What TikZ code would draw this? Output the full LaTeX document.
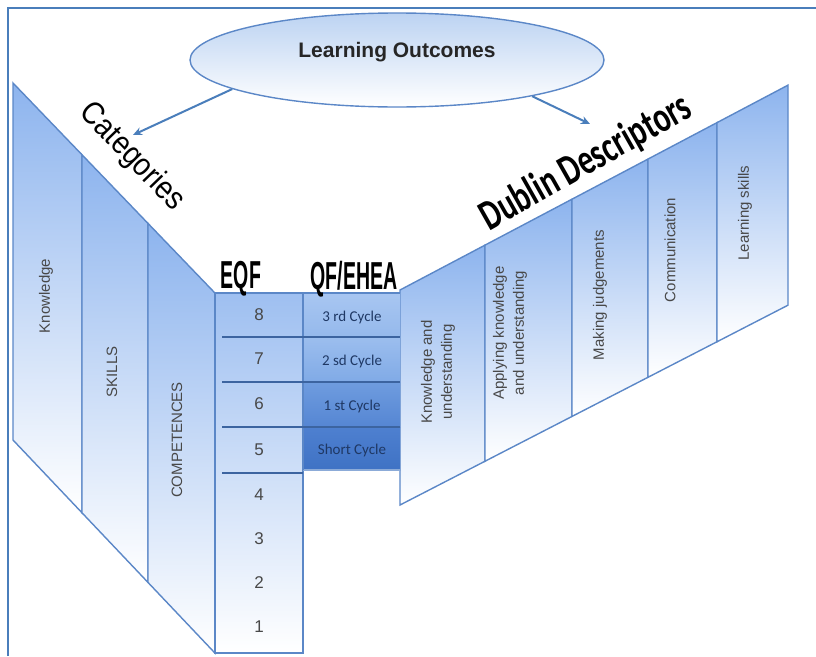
\documentclass[tikz,border=0pt]{standalone}
\usepackage{fontspec}
\setmainfont{Liberation Sans}
\newfontfamily\calib{Carlito}
\usetikzlibrary{shapes.geometric,arrows.meta}

\definecolor{frameblue}{HTML}{4A7EBB}
\definecolor{edgeblue}{HTML}{5B87C7}
\definecolor{panelblue}{HTML}{8DB4EE}
\definecolor{ellblue}{HTML}{BCD3F2}
\definecolor{rowline}{HTML}{3C64A0}
\definecolor{labelgray}{HTML}{484848}
\definecolor{cyclenavy}{HTML}{1F3864}

\tikzset{
  panel/.style={draw=edgeblue, line width=1.4pt, top color=panelblue, bottom color=white},
  vlabel/.style={rotate=90, text=labelgray, align=center, font=\fontsize{15}{20}\selectfont},
  numlabel/.style={text=labelgray, font=\fontsize{17}{17}\selectfont},
  cyclabel/.style={text=cyclenavy, font=\calib\fontsize{15}{15}\selectfont},
  bigtitle/.style={text=black, inner sep=0pt},
  arr/.style={-{Stealth[length=9pt,width=8pt]}, draw=frameblue, line width=2pt}
}

\begin{document}
\begin{tikzpicture}[x=1pt,y=-1pt]
  \useasboundingbox (0,0) rectangle (816,656);
  \draw[frameblue, line width=2.5pt] (8,656) -- (8,8) -- (816,8);

  % categories face
  \foreach \xa/\xb in {13/82,82/148,148/215}{
    \pgfmathsetmacro\ta{83+1.04*(\xa-13)}
    \pgfmathsetmacro\tb{83+1.04*(\xb-13)}
    \pgfmathsetmacro\ba{440+1.055*(\xa-13)}
    \pgfmathsetmacro\bb{440+1.055*(\xb-13)}
    \draw[panel] (\xa,\ta) -- (\xb,\tb) -- (\xb,\bb) -- (\xa,\ba) -- cycle;
  }
  \node[vlabel] (know) at (46,296) {Knowledge};
  \node[vlabel] (skills) at (112,372) {SKILLS};
  \node[vlabel] (comp) at (177,440) {COMPETENCES};

  % dublin face
  \foreach \xa/\xb in {400/485,485/572,572/648,648/717,717/788}{
    \pgfmathsetmacro\ta{290-0.528*(\xa-400)}
    \pgfmathsetmacro\tb{290-0.528*(\xb-400)}
    \pgfmathsetmacro\ba{505-0.515*(\xa-400)}
    \pgfmathsetmacro\bb{505-0.515*(\xb-400)}
    \draw[panel] (\xa,\ta) -- (\xb,\tb) -- (\xb,\bb) -- (\xa,\ba) -- cycle;
  }
  \node[vlabel] (ku) at (438,372) {Knowledge and\\understanding};
  \node[vlabel] (aku) at (510,333) {Applying knowledge\\and understanding};
  \node[vlabel] (mj) at (600,295) {Making judgements};
  \node[vlabel] (com) at (670,250) {Communication};
  \node[vlabel] (ls) at (745,213) {Learning skills};

  % EQF and QF/EHEA columns
  \shade[top color=panelblue!85, bottom color=white] (215,293) rectangle (303,653);
  \draw[edgeblue, line width=1.8pt] (215,293) -- (215,653) -- (303,653) -- (303,293);
  \foreach \ya/\yb/\ca/\cb/\txt in {293/337/A8C6F1/95B9EC/3 rd Cycle,
      337/382/9CBEEE/80AAE6/2 sd Cycle, 382/427/6F9CDF/5586D3/1 st Cycle,
      427/470/4E80D0/3F72C4/Short Cycle}{
    \definecolor{ctop}{HTML}{\ca}
    \definecolor{cbot}{HTML}{\cb}
    \shade[top color=ctop, bottom color=cbot] (303,\ya) rectangle (400,\yb);
    \node[cyclabel] at (352,{(\ya+\yb)/2+2}) {\txt};
  }
  \draw[edgeblue!70, line width=1.2pt] (303,470) -- (400,470);
  \draw[edgeblue, line width=1.8pt] (215,293) -- (400,293) (303,293) -- (303,470);
  \foreach \y in {337,382,427}
    \draw[rowline, line width=1.8pt] (222,\y) -- (400,\y);
  \draw[rowline, line width=1.8pt] (222,473) -- (303,473);
  \foreach \n/\y in {8/315,7/359,6/404,5/450,4/495,3/539,2/583,1/627}
    \node[numlabel] (eqf\n) at (259,\y) {\n};

  % titles
  \node[bigtitle] (eqf) at (241,279) {\scalebox{0.5}[1]{\bfseries\fontsize{39}{39}\selectfont EQF}};
  \node[bigtitle] (qf) at (354,279) {\scalebox{0.5}[1]{\bfseries\fontsize{39}{39}\selectfont QF/EHEA}};
  \node[bigtitle, rotate=-46] (cat) at (132,157) {\scalebox{0.88}[1]{\fontsize{32}{32}\selectfont Categories}};
  \node[bigtitle, rotate=29.5] (dub) at (586,163) {\scalebox{0.96}[1.35]{\calib\bfseries\fontsize{32}{32}\selectfont Dublin Descriptors}};

  \node[ellipse, draw=edgeblue, line width=1.4pt, top color=ellblue, bottom color=white,
    minimum width=414pt, minimum height=94pt,
    label={[yshift=8pt, font=\bfseries\fontsize{21}{21}\selectfont, text=black!85]center:Learning Outcomes}] (lo) at (397,60) {};

  \coordinate (catend) at (133,135);
  \coordinate (dubend) at (590,124);
  \path (lo.190) edge[arr] (catend)
    (lo.345) edge[arr] (dubend);
\end{tikzpicture}
\end{document}
